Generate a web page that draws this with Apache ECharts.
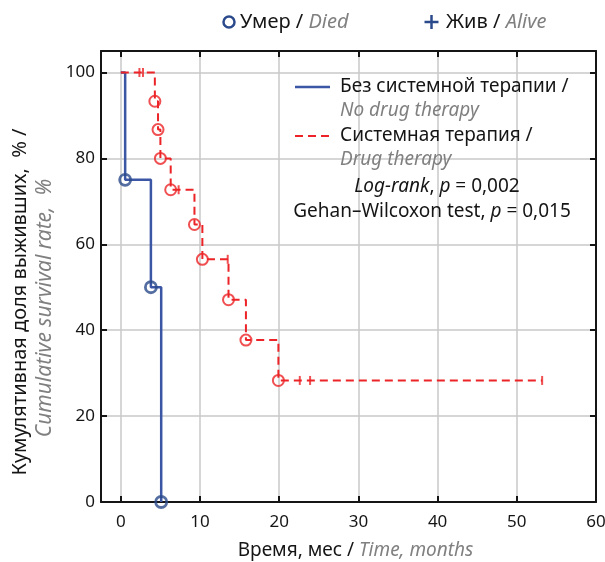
<!DOCTYPE html>
<html>
<head>
<meta charset="utf-8">
<script src="https://cdn.jsdelivr.net/npm/echarts@6/dist/echarts.min.js"></script>
<style>html,body{margin:0;padding:0;background:#fff}#c{width:605px;height:562px}</style>
</head>
<body>
<div id="c"></div>
<script>
// ---- Data ----
// No drug therapy: times (months) and survival (%) after each step
const noDrugTime = [0, 0.55, 3.8, 5.1];
const noDrugSurv = [100, 75, 50, 0];
// Drug therapy
const drugTime = [0, 4.3, 4.7, 5.0, 6.3, 9.3, 10.3, 13.6, 15.8, 19.9, 53.2];
const drugSurv = [100, 93.3, 86.7, 80.0, 72.7, 64.6, 56.5, 47.1, 37.7, 28.3, 28.3];
// Censored (alive) observations, drug therapy group
const drugCensorTime = [2.35, 2.8, 7.3, 13.5, 22.6, 23.9, 53.2];
const drugCensorSurv = [100, 100, 72.7, 56.5, 28.3, 28.3, 28.3];
// Axis ranges / ticks
const xMin = -2.5, xMax = 60, xSplit = 6;
const yMin = 0, yMax = 105, ySplit = 5;

const FONT = 'Noto Sans';
const FS = 19;
const BLUE = '#3a56a5';
const BLUE_DARK = '#2b4a8b';
const RED = '#ec2427';
const GRAY = '#808080';
const BLACK = '#151515';

const pairs = (xs, ys) => xs.map((x, i) => [x, ys[i]]);
const noDrugLine = pairs(noDrugTime, noDrugSurv);
const noDrugDied = noDrugLine.slice(1);
const drugLine = pairs(drugTime, drugSurv);
const drugDied = drugLine.slice(1, drugLine.length - 1);
const drugCensor = pairs(drugCensorTime, drugCensorSurv);

const frameLine = {show: true, onZero: false, lineStyle: {color: BLACK, width: 2}};
const frameTick = {show: true, inside: true, length: 6, lineStyle: {color: BLACK, width: 2}};

const chart = echarts.init(document.getElementById('c'), null, {renderer: 'canvas'});
chart.setOption({
  animation: false,
  grid: {left: 101, right: 9, top: 51, bottom: 60, containLabel: false, outerBoundsMode: 'none'},
  xAxis: [
    {
      type: 'value', min: xMin, max: xMax, splitNumber: xSplit, position: 'bottom',
      axisLine: frameLine, axisTick: frameTick,
      axisLabel: {formatter: v => (v < 0 ? '' : String(v)), fontSize: 17, fontFamily: FONT, color: BLACK, margin: 12},
      splitLine: {show: true, lineStyle: {color: '#c8c8c8', width: 1.5}},
      name: '{a|Время, мес / }{b|Time, months}',
      nameLocation: 'middle', nameGap: 39,
      nameTextStyle: {padding: [0, 0, 0, 14], rich: {
        a: {fontSize: FS, fontFamily: FONT, color: BLACK},
        b: {fontSize: FS, fontFamily: FONT, color: GRAY, fontStyle: 'italic'}
      }}
    },
    {
      type: 'value', min: xMin, max: xMax, splitNumber: xSplit, position: 'top',
      axisLine: frameLine, axisTick: frameTick,
      axisLabel: {show: false}, splitLine: {show: false}
    }
  ],
  yAxis: [
    {
      type: 'value', min: yMin, max: yMax, splitNumber: ySplit, position: 'left',
      axisLine: frameLine, axisTick: frameTick,
      axisLabel: {formatter: v => (v > 100 ? '' : String(v)), fontSize: 17, fontFamily: FONT, color: BLACK, margin: 6},
      splitLine: {show: true, lineStyle: {color: '#c8c8c8', width: 1.5}}
    },
    {
      type: 'value', min: yMin, max: yMax, splitNumber: ySplit, position: 'right',
      axisLine: frameLine, axisTick: frameTick,
      axisLabel: {show: false}, splitLine: {show: false}
    }
  ],
  series: [
    {
      name: 'Без системной терапии', type: 'line', step: 'end', data: noDrugLine,
      showSymbol: false, symbol: 'none', clip: false,
      lineStyle: {color: BLUE, width: 2.5}, z: 3
    },
    {
      name: 'Системная терапия', type: 'line', step: 'end', data: drugLine,
      showSymbol: false, symbol: 'none', clip: false,
      lineStyle: {color: RED, width: 2, type: [8, 5]}, z: 4
    },
    {
      type: 'scatter', data: noDrugDied, symbol: 'circle', symbolSize: 11, clip: false,
      itemStyle: {color: 'rgba(255,255,255,0)', borderColor: BLUE_DARK, borderWidth: 2.8}, z: 5
    },
    {
      type: 'scatter', data: drugDied, symbol: 'circle', symbolSize: 11, clip: false,
      itemStyle: {color: 'rgba(255,255,255,0)', borderColor: RED, borderWidth: 2}, z: 5
    },
    {
      type: 'scatter', data: drugCensor, symbol: 'rect', symbolSize: [2, 9], clip: false,
      itemStyle: {color: RED}, z: 5
    }
  ],
  graphic: [
    // y-axis title (two lines, rotated)
    {type: 'text', x: 20, y: 302, rotation: Math.PI / 2, style: {
      text: 'Кумулятивная доля выживших,  % /', fontSize: 20, fontFamily: FONT, fill: BLACK,
      align: 'center', textAlign: 'center', verticalAlign: 'middle', textVerticalAlign: 'middle'}},
    {type: 'text', x: 45, y: 308, rotation: Math.PI / 2, style: {
      text: 'Cumulative survival rate,  %', fontSize: 21, fontFamily: FONT, fontStyle: 'italic', fill: GRAY,
      align: 'center', textAlign: 'center', verticalAlign: 'middle', textVerticalAlign: 'middle'}},
    // top legend
    {type: 'circle', shape: {cx: 229, cy: 22, r: 5.5}, style: {fill: 'none', stroke: BLUE_DARK, lineWidth: 2.5}},
    {type: 'text', x: 240, y: 22, style: {
      text: '{a|Умер / }{b|Died}', verticalAlign: 'middle', textVerticalAlign: 'middle',
      rich: {a: {fontSize: 20, fontFamily: FONT, fill: BLACK}, b: {fontSize: 20, fontFamily: FONT, fill: GRAY, fontStyle: 'italic'}}
    }},
    {type: 'line', shape: {x1: 424.5, y1: 22, x2: 438.5, y2: 22}, style: {stroke: BLUE_DARK, lineWidth: 2.5}},
    {type: 'line', shape: {x1: 431.5, y1: 15, x2: 431.5, y2: 29}, style: {stroke: BLUE_DARK, lineWidth: 2.5}},
    {type: 'text', x: 446, y: 22, style: {
      text: '{a|Жив / }{b|Alive}', verticalAlign: 'middle', textVerticalAlign: 'middle',
      rich: {a: {fontSize: 20, fontFamily: FONT, fill: BLACK}, b: {fontSize: 20, fontFamily: FONT, fill: GRAY, fontStyle: 'italic'}}
    }},
    // inner legend
    {type: 'line', shape: {x1: 295, y1: 87, x2: 330, y2: 87}, style: {stroke: BLUE, lineWidth: 2.5}, z: 10},
    {type: 'text', x: 340, y: 87, z: 10, style: {text: 'Без системной терапии /', fontSize: FS, fontFamily: FONT, fill: BLACK, verticalAlign: 'middle', textVerticalAlign: 'middle'}},
    {type: 'text', x: 340, y: 111, z: 10, style: {text: 'No drug therapy', fontSize: FS, fontFamily: FONT, fontStyle: 'italic', fill: GRAY, verticalAlign: 'middle', textVerticalAlign: 'middle'}},
    {type: 'line', shape: {x1: 295, y1: 136, x2: 330, y2: 136}, style: {stroke: RED, lineWidth: 2, lineDash: [8, 5]}, z: 10},
    {type: 'text', x: 340, y: 136, z: 10, style: {text: 'Системная терапия /', fontSize: FS, fontFamily: FONT, fill: BLACK, verticalAlign: 'middle', textVerticalAlign: 'middle'}},
    {type: 'text', x: 340, y: 160, z: 10, style: {text: 'Drug therapy', fontSize: FS, fontFamily: FONT, fontStyle: 'italic', fill: GRAY, verticalAlign: 'middle', textVerticalAlign: 'middle'}},
    {type: 'text', x: 437, y: 187, z: 10, style: {
      text: '{i|Log-rank}{n|, }{i|p}{n| = 0,002}', align: 'center', textAlign: 'center', verticalAlign: 'middle', textVerticalAlign: 'middle',
      rich: {i: {fontSize: FS, fontFamily: FONT, fontStyle: 'italic', fill: BLACK}, n: {fontSize: FS, fontFamily: FONT, fill: BLACK}}
    }},
    {type: 'text', x: 432, y: 212, z: 10, style: {
      text: '{n|Gehan–Wilcoxon test, }{i|p}{n| = 0,015}', align: 'center', textAlign: 'center', verticalAlign: 'middle', textVerticalAlign: 'middle',
      rich: {i: {fontSize: FS, fontFamily: FONT, fontStyle: 'italic', fill: BLACK}, n: {fontSize: FS, fontFamily: FONT, fill: BLACK}}
    }}
  ]
});
</script>
</body>
</html>
